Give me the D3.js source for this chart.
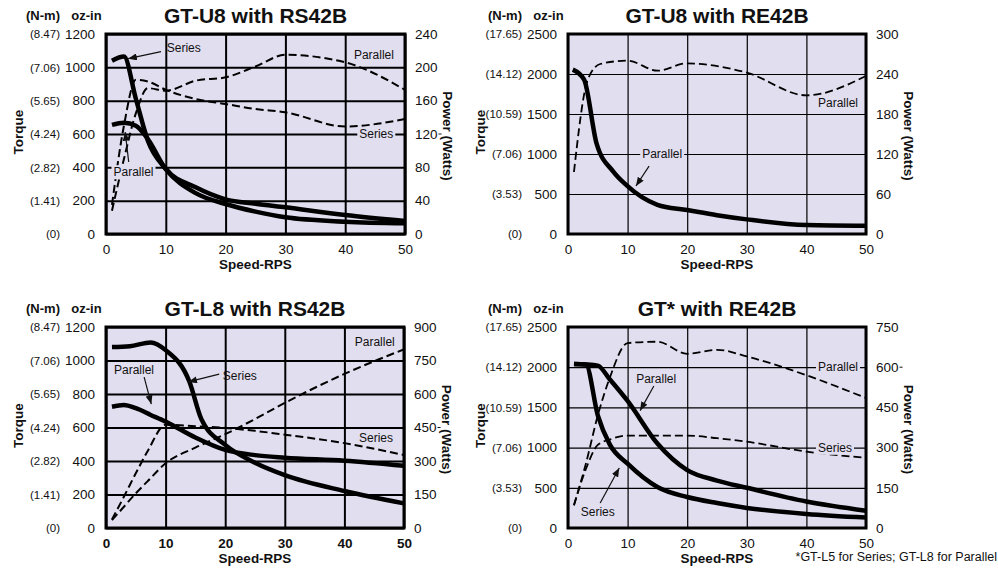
<!DOCTYPE html>
<html><head><meta charset="utf-8">
<script src="https://cdn.jsdelivr.net/npm/d3@7"></script>
<style>
body{margin:0;background:#fff}
svg{display:block}
text{font-family:"Liberation Sans",Arial,Helvetica,sans-serif;fill:#111}
</style>
</head><body>
<svg id="chart" width="998" height="569"></svg>
<script>
// ---------- shared ----------
const speedTicks = [0, 10, 20, 30, 40, 50];
const ozTicksSmall = [0, 200, 400, 600, 800, 1000, 1200];
const nmLabelsSmall = ["(0)", "(1.41)", "(2.82)", "(4.24)", "(5.65)", "(7.06)", "(8.47)"];
const ozTicksLarge = [0, 500, 1000, 1500, 2000, 2500];
const nmLabelsLarge = ["(0)", "(3.53)", "(7.06)", "(10.59)", "(14.12)", "(17.65)"];

// ---------- Panel 1: GT-U8 with RS42B ----------
const p1PowerTicks = [0, 40, 80, 120, 160, 200, 240];
const p1Speed = [1, 3, 5, 7, 10, 15, 20, 25, 30, 40, 50];
const p1SeriesTorque = [1040, 1065, 810, 560, 390, 245, 180, 134, 100, 74, 64];
const p1ParallelTorque = [655, 668, 650, 570, 390, 280, 208, 182, 160, 114, 78];
const p1SeriesPower = [35, 130, 185, 183, 173, 162, 156, 150, 146, 129, 138];
const p1ParallelPower = [28, 90, 145, 175, 172, 184, 188, 201, 215, 206, 173];

// ---------- Panel 2: GT-U8 with RE42B ----------
const p2PowerTicks = [0, 60, 120, 180, 240, 300];
const p2TorqueSpeed = [0.8, 2.7, 4.8, 7.6, 9.8, 15, 20, 25, 30, 40, 50];
const p2ParallelTorque = [2054, 1930, 1130, 780, 610, 365, 300, 235, 183, 112, 103];
const p2PowerSpeed = [1, 3.3, 5.4, 10, 15, 20, 30, 40, 50];
const p2ParallelPower = [93, 231, 255, 260, 245, 256, 242, 208, 237];

// ---------- Panel 3: GT-L8 with RS42B ----------
const p3PowerTicks = [0, 150, 300, 450, 600, 750, 900];
const p3SeriesTorqueSpeed = [1, 4, 7.5, 10, 14, 16, 20, 25, 30, 40, 50];
const p3SeriesTorque = [1080, 1085, 1108, 1062, 873, 650, 496, 390, 316, 221, 147];
const p3ParallelTorqueSpeed = [1, 3, 5, 7.5, 10, 15, 20, 25, 30, 40, 50];
const p3ParallelTorque = [724, 734, 715, 675, 635, 540, 466, 435, 420, 402, 372];
const p3PowerSpeed = [1, 3, 5, 7, 10, 15, 20, 25, 30, 40, 50];
const p3SeriesPower = [38, 140, 245, 345, 462, 456, 448, 435, 418, 380, 327];
const p3ParallelPower = [35, 95, 155, 210, 290, 360, 420, 488, 560, 690, 800];

// ---------- Panel 4: GT* with RE42B ----------
const p4PowerTicks = [0, 150, 300, 450, 600, 750];
const p4Speed = [1, 3, 5, 7, 10, 15, 20, 25, 30, 40, 50];
const p4SeriesTorque = [2040, 2035, 1400, 1040, 800, 510, 385, 310, 250, 175, 130];
const p4ParallelTorque = [2040, 2035, 2020, 1850, 1580, 1050, 720, 590, 500, 330, 215];
const p4SeriesPower = [85, 220, 310, 330, 345, 345, 345, 335, 322, 285, 262];
const p4ParallelPower = [85, 240, 420, 560, 690, 695, 650, 665, 640, 570, 485];

const footnote = "*GT-L5 for Series; GT-L8 for Parallel";

// ---------- build ----------
const zip = (xs, ys) => xs.map((s, i) => [s, ys[i]]);
const BG = "#e1deef";
const svg = d3.select("#chart");

const defs = svg.append("defs");
defs.append("marker").attr("id", "arr").attr("viewBox", "0 0 10 8")
  .attr("refX", 10).attr("refY", 4).attr("markerWidth", 9).attr("markerHeight", 7)
  .attr("markerUnits", "userSpaceOnUse").attr("orient", "auto")
  .append("path").attr("d", "M0,0 L10,4 L0,8 z").attr("fill", "#111");

const panels = [
  {
    title: "GT-U8 with RS42B", box: [106, 34, 405, 234], tMax: 1200, pMax: 240,
    tTicks: ozTicksSmall, nm: nmLabelsSmall, pTicks: p1PowerTicks, gridW: 2, xBold: false, dashW: 2,
    torque: [zip(p1Speed, p1SeriesTorque), zip(p1Speed, p1ParallelTorque)],
    power: [zip(p1Speed, p1SeriesPower), zip(p1Speed, p1ParallelPower)],
    dashTick: 120,
    notes: [
      {text: "Series", s: 13, t: 1116, arrow: [9.2, 1094, 3.7, 1052]},
      {text: "Parallel", s: 44.8, t: 1074},
      {text: "Series", s: 45.2, t: 600, bg: true},
      {text: "Parallel", s: 4.6, t: 372, bg: true, arrow: [3.8, 432, 3.2, 612]}
    ]
  },
  {
    title: "GT-U8 with RE42B", box: [568, 34, 866, 234], tMax: 2500, pMax: 300,
    tTicks: ozTicksLarge, nm: nmLabelsLarge, pTicks: p2PowerTicks, gridW: 1.2, xBold: false, dashW: 1.8,
    torque: [zip(p2TorqueSpeed, p2ParallelTorque)],
    power: [zip(p2PowerSpeed, p2ParallelPower)],
    notes: [
      {text: "Parallel", s: 45.3, t: 1637},
      {text: "Parallel", s: 15.8, t: 1000, bg: true, arrow: [13.6, 848, 11.4, 600]}
    ]
  },
  {
    title: "GT-L8 with RS42B", box: [106, 327, 404, 528], tMax: 1200, pMax: 900,
    tTicks: ozTicksSmall, nm: nmLabelsSmall, pTicks: p3PowerTicks, gridW: 2, xBold: true, dashW: 2,
    torque: [zip(p3SeriesTorqueSpeed, p3SeriesTorque), zip(p3ParallelTorqueSpeed, p3ParallelTorque)],
    power: [zip(p3PowerSpeed, p3SeriesPower), zip(p3PowerSpeed, p3ParallelPower)],
    dashTick: 450,
    notes: [
      {text: "Series", s: 19.6, t: 909, anchor: "start", arrow: [19, 919, 13.8, 872]},
      {text: "Parallel", s: 4.7, t: 943, arrow: [6.4, 901, 7.6, 740]},
      {text: "Parallel", s: 45.1, t: 1109},
      {text: "Series", s: 45.3, t: 541}
    ]
  },
  {
    title: "GT* with RE42B", box: [568, 327, 866, 528], tMax: 2500, pMax: 750,
    tTicks: ozTicksLarge, nm: nmLabelsLarge, pTicks: p4PowerTicks, gridW: 1.2, xBold: false, dashW: 1.8,
    torque: [zip(p4Speed, p4SeriesTorque), zip(p4Speed, p4ParallelTorque)],
    power: [zip(p4Speed, p4SeriesPower), zip(p4Speed, p4ParallelPower)],
    dashTick: 600,
    notes: [
      {text: "Parallel", s: 45.3, t: 2000, bg: true},
      {text: "Series", s: 44.8, t: 1000, bg: true},
      {text: "Parallel", s: 14.8, t: 1854, arrow: [14.4, 1766, 12.1, 1460]},
      {text: "Series", s: 5, t: 199, arrow: [5.4, 311, 8.6, 746]}
    ]
  }
];

panels.forEach((p, idx) => {
  const [x0, y0, x1, y1] = p.box;
  const w = x1 - x0, h = y1 - y0;
  const g = svg.append("g");
  const x = d3.scaleLinear().domain([0, 50]).range([x0, x1]);
  const yT = d3.scaleLinear().domain([0, p.tMax]).range([y1, y0]);
  const yP = d3.scaleLinear().domain([0, p.pMax]).range([y1, y0]);

  g.append("rect").attr("x", x0).attr("y", y0).attr("width", w).attr("height", h).attr("fill", BG);

  // left oz-in axis with horizontal grid
  const ax = g.append("g").attr("transform", `translate(${x0},0)`)
    .call(d3.axisLeft(yT).tickValues(p.tTicks).tickSize(-w).tickPadding(11).tickFormat(d3.format("d")));
  ax.select(".domain").remove();
  ax.selectAll("line").attr("stroke", "#000").attr("stroke-width", p.gridW);
  ax.selectAll("text").attr("font-size", 13.5).attr("fill", "#111");

  // N-m labels
  const an = g.append("g").attr("transform", `translate(${x0},0)`)
    .call(d3.axisLeft(yT).tickValues(p.tTicks).tickSize(0).tickPadding(46)
      .tickFormat(d => p.nm[p.tTicks.indexOf(d)]));
  an.select(".domain").remove();
  an.selectAll("text").attr("font-size", 11.5).attr("fill", "#222");

  // bottom axis with vertical grid
  const bx = g.append("g").attr("transform", `translate(0,${y1})`)
    .call(d3.axisBottom(x).tickValues(speedTicks).tickSize(-h).tickPadding(10));
  bx.select(".domain").remove();
  bx.selectAll("line").attr("stroke", "#000").attr("stroke-width", p.gridW);
  bx.selectAll("text").attr("font-size", 13.5).attr("fill", "#111")
    .attr("font-weight", p.xBold ? "bold" : "normal");

  // right power axis
  const rx = g.append("g").attr("transform", `translate(${x1},0)`)
    .call(d3.axisRight(yP).tickValues(p.pTicks).tickSize(0).tickPadding(10));
  rx.select(".domain").remove();
  rx.selectAll("text").attr("font-size", 13.5).attr("fill", "#111");
  if (p.dashTick !== undefined) {
    const tickText = rx.selectAll(".tick").filter(d => d === p.dashTick).select("text").node();
    const tb = tickText.getBBox();
    const xe = x1 + tb.x + tb.width;
    g.append("line").attr("x1", xe + 1).attr("x2", xe + 4)
      .attr("y1", yP(p.dashTick)).attr("y2", yP(p.dashTick)).attr("stroke", "#111").attr("stroke-width", 1);
  }

  // curves
  const clipId = "clip" + idx;
  defs.append("clipPath").attr("id", clipId).append("rect")
    .attr("x", x0).attr("y", y0 - 2).attr("width", w + 2).attr("height", h + 2);
  const cg = g.append("g").attr("clip-path", `url(#${clipId})`);
  const lineT = d3.line().x(d => x(d[0])).y(d => yT(d[1])).curve(d3.curveMonotoneX);
  const lineP = d3.line().x(d => x(d[0])).y(d => yP(d[1])).curve(d3.curveMonotoneX);
  p.power.forEach(s => cg.append("path").attr("d", lineP(s)).attr("fill", "none")
    .attr("stroke", "#000").attr("stroke-width", p.dashW).attr("stroke-dasharray", "8,4"));
  p.torque.forEach(s => cg.append("path").attr("d", lineT(s)).attr("fill", "none")
    .attr("stroke", "#000").attr("stroke-width", 4.5).attr("stroke-linejoin", "round"));

  // annotations
  p.notes.forEach(n => {
    const ng = g.append("g");
    const t = ng.append("text").attr("x", x(n.s)).attr("y", yT(n.t)).attr("dy", "0.35em")
      .attr("text-anchor", n.anchor || "middle").attr("font-size", 12).attr("fill", "#222").text(n.text);
    if (n.bg) {
      const bb = t.node().getBBox();
      ng.insert("rect", "text").attr("x", bb.x - 2).attr("y", bb.y).attr("width", bb.width + 4)
        .attr("height", bb.height).attr("fill", BG);
    }
    if (n.arrow) {
      ng.append("line").attr("x1", x(n.arrow[0])).attr("y1", yT(n.arrow[1]))
        .attr("x2", x(n.arrow[2])).attr("y2", yT(n.arrow[3]))
        .attr("stroke", "#111").attr("stroke-width", 1.2).attr("marker-end", "url(#arr)");
    }
  });

  // border
  g.append("rect").attr("x", x0).attr("y", y0).attr("width", w).attr("height", h)
    .attr("fill", "none").attr("stroke", "#000").attr("stroke-width", 3);

  // titles and axis names
  g.append("text").attr("x", (x0 + x1) / 2).attr("y", y0 - 11).attr("text-anchor", "middle")
    .attr("font-size", 21).attr("font-weight", "bold").text(p.title);
  g.append("text").attr("x", x0 - 63).attr("y", y0 - 14).attr("text-anchor", "middle")
    .attr("font-size", 13).attr("font-weight", "bold").text("(N-m)");
  g.append("text").attr("x", x0 - 19.5).attr("y", y0 - 14).attr("text-anchor", "middle")
    .attr("font-size", 13).attr("font-weight", "bold").text("oz-in");
  g.append("text").attr("transform", `translate(${x0 - 83},${(y0 + y1) / 2 - 2}) rotate(-90)`)
    .attr("text-anchor", "middle").attr("font-size", 13.5).attr("font-weight", "bold").text("Torque");
  g.append("text").attr("transform", `translate(${x1 + 38},${(y0 + y1) / 2 + 2}) rotate(90)`)
    .attr("text-anchor", "middle").attr("font-size", 13.5).attr("font-weight", "bold").text("Power (Watts)");
  g.append("text").attr("x", (x0 + x1) / 2).attr("y", y1 + 35).attr("text-anchor", "middle")
    .attr("font-size", 13.5).attr("font-weight", "bold").text("Speed-RPS");
});

svg.append("text").attr("x", 997).attr("y", 561).attr("text-anchor", "end")
  .attr("font-size", 12.5).attr("fill", "#222").text(footnote);
</script>
</body></html>
